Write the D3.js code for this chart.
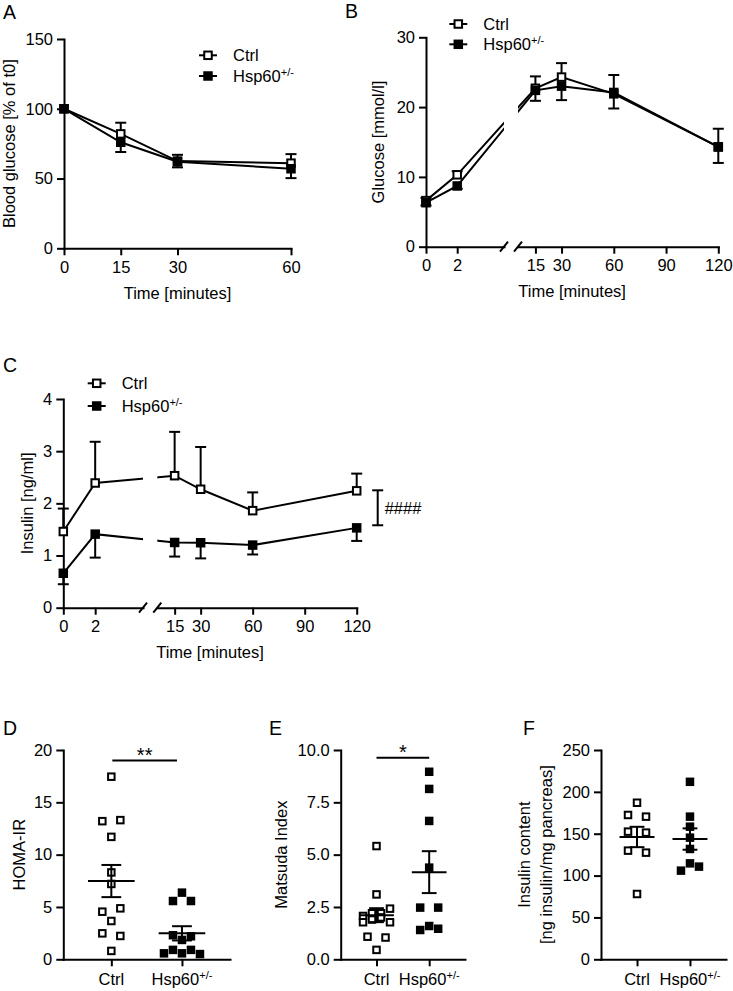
<!DOCTYPE html>
<html><head><meta charset="utf-8">
<script src="https://cdn.jsdelivr.net/npm/d3@7"></script>
<style>
html,body{margin:0;padding:0;background:#fff;}
svg{display:block;}
</style></head><body>
<svg id="fig" width="733" height="991"></svg>
<script>
// ================= DATA =================
const seriesNames = ["Ctrl", "Hsp60"];
const supText = "+/-";

// Panel A – blood glucose (% of t0)
const timeA = [0, 15, 30, 60];
const ctrlA = [100, 82, 62.5, 61];
const ctrlSemA = [0, 8, 4.5, 6.5];
const hspA = [100, 76, 62, 57];
const hspSemA = [0, 7, 4, 6.7];
const yTicksA = [0, 50, 100, 150];
const xTicksA = [0, 15, 30, 60];

// Panel B – glucose (mmol/l)
const timeB = [0, 2, 15, 30, 60, 120];
const ctrlB = [6.6, 10.3, 22.7, 24.3, 21.9, 14.3];
const ctrlSemB = [0.4, 0.5, 1.7, 2.0, 2.7, 2.6];
const hspB = [6.3, 8.7, 22.4, 23.0, 22.1, 14.3];
const hspSemB = [0.4, 0.4, 1.5, 2.0, 2.3, 2.3];
const yTicksB = [0, 10, 20, 30];

// broken time axis (B and C)
const xTicksEarly = [0, 2];
const xTicksLate = [15, 30, 60, 90, 120];
const breakAt = 5;
const timeMax = 120;

// Panel C – insulin (ng/ml)
const timeC = [0, 2, 15, 30, 60, 120];
const ctrlC = [1.46, 2.39, 2.53, 2.27, 1.86, 2.24];
const ctrlSemC = [0.44, 0.79, 0.84, 0.81, 0.35, 0.33];
const hspC = [0.66, 1.41, 1.25, 1.245, 1.20, 1.53];
const hspSemC = [0.21, 0.45, 0.27, 0.30, 0.18, 0.25];
const yTicksC = [0, 1, 2, 3, 4];
const bracketC = [1.58, 2.25];
const bracketLabelC = "####";

// Panel D – HOMA-IR
const homaCtrl = [17.45, 13.2, 13.3, 11.7, 8.3, 7.2, 4.55, 4.87, 3.66, 2.48, 2.23, 0.8];
const homaHsp = [6.37, 5.57, 5.57, 2.3, 1.85, 2.2, 0.57, 0.9, 0.57, 0.9, 0.5];
const yTicksD = [0, 5, 10, 15, 20];
const sigLevelD = 19, sigLabelD = "**";

// Panel E – Matsuda index
const matsudaCtrl = [5.41, 3.1, 2.07, 2.2, 2.2, 2.42, 1.77, 1.9, 2.0, 1.77, 1.08, 1.04, 0.45];
const matsudaHsp = [8.96, 8.14, 6.61, 4.38, 2.47, 2.47, 1.40, 1.59, 1.46];
const yTicksE = [0, 2.5, 5, 7.5, 10];
const sigLevelE = 9.63, sigLabelE = "*";

// Panel F – insulin content
const contentCtrl = [187, 172.4, 170.4, 152.5, 151.3, 129.8, 127.4, 78];
const contentHsp = [212, 170.4, 158.4, 145.3, 131.8, 105.9, 114.6, 110.7];
const yTicksF = [0, 50, 100, 150, 200, 250];

// ================= DRAWING =================
const FONT = '"Liberation Sans", Arial, Helvetica, sans-serif';
const LETTER_FONT = '"Liberation Sans", Arial, sans-serif';
const FS = 16.5;
const svg = d3.select("#fig");
svg.append("rect").attr("width", 733).attr("height", 991).attr("fill", "#fff");

function styleAxis(a) {
  a.select(".domain").attr("stroke", "#000").attr("stroke-width", 2).attr("stroke-linecap", "square");
  a.selectAll(".tick line").attr("stroke", "#000").attr("stroke-width", 2);
  a.selectAll(".tick text").attr("font-size", FS).attr("font-family", FONT).attr("fill", "#000");
}
function yAxis(x0, y, ticks, fmt) {
  const a = svg.append("g").attr("transform", `translate(${x0},0)`)
    .call(d3.axisLeft(y).tickValues(ticks).tickSize(7).tickPadding(4).tickSizeOuter(0).tickFormat(fmt || d3.format("d")));
  styleAxis(a);
}
function xAxis(y0, x, ticks, fmt) {
  const a = svg.append("g").attr("transform", `translate(0,${y0})`)
    .call(d3.axisBottom(x).tickValues(ticks).tickSize(7).tickPadding(6).tickSizeOuter(0).tickFormat(fmt || d3.format("d")));
  styleAxis(a);
  return a;
}
function letter(t, x, y) {
  svg.append("text").attr("x", x).attr("y", y).attr("font-family", LETTER_FONT).attr("font-size", 19.5).text(t);
}
function yTitle(lines, x, yMid) {
  lines.forEach((t, i) => {
    svg.append("text").attr("transform", `translate(${x[i]},${yMid}) rotate(-90)`)
      .attr("text-anchor", "middle").attr("font-family", FONT).attr("font-size", FS).text(t);
  });
}
function xTitle(t, x, y) {
  svg.append("text").attr("x", x).attr("y", y).attr("text-anchor", "middle")
    .attr("font-family", FONT).attr("font-size", FS).text(t);
}
function labelWithSup(sel, name, hasSup) {
  sel.append("tspan").text(name);
  if (hasSup) sel.append("tspan").attr("dy", -6.5).attr("font-size", 11).text(supText);
}
function marker(g, cx, cy, filled, s) {
  g.append("rect").attr("x", cx - s / 2).attr("y", cy - s / 2).attr("width", s).attr("height", s)
    .attr("fill", filled ? "#000" : "#fff").attr("stroke", "#000").attr("stroke-width", 2);
}
function legend(xm, yRows) {
  yRows.forEach((yy, i) => {
    svg.append("line").attr("x1", xm - 9).attr("x2", xm + 9).attr("y1", yy).attr("y2", yy)
      .attr("stroke", "#000").attr("stroke-width", 2);
    marker(svg, xm, yy, i === 1, 7.5);
    const t = svg.append("text").attr("x", xm + 25).attr("y", yy + 6)
      .attr("font-family", FONT).attr("font-size", FS);
    labelWithSup(t, seriesNames[i], i === 1);
  });
}

let clipCount = 0;
function timePanel(o) {
  const g = svg.append("g");
  let clip = null;
  if (o.gap) {
    const id = "clip" + (clipCount++);
    const cp = svg.append("clipPath").attr("id", id);
    cp.append("rect").attr("x", 0).attr("y", 0).attr("width", o.gap[0]).attr("height", 991);
    cp.append("rect").attr("x", o.gap[1]).attr("y", 0).attr("width", 733 - o.gap[1]).attr("height", 991);
    clip = `url(#${id})`;
  }
  const series = [
    { v: o.ctrl, s: o.ctrlSem, dir: 1, filled: false },
    { v: o.hsp, s: o.hspSem, dir: -1, filled: true }
  ];
  const line = d3.line().x((d, i) => o.x(o.time[i])).y(d => o.y(d));
  series.forEach(se => {
    g.append("path").attr("d", line(se.v)).attr("fill", "none").attr("stroke", "#000")
      .attr("stroke-width", 2).attr("clip-path", clip);
  });
  series.forEach(se => {
    se.v.forEach((v, i) => {
      if (!se.s[i]) return;
      const cx = o.x(o.time[i]), y1 = o.y(v), y2 = o.y(v + se.dir * se.s[i]);
      g.append("line").attr("x1", cx).attr("x2", cx).attr("y1", y1).attr("y2", y2).attr("stroke", "#000").attr("stroke-width", 2);
      g.append("line").attr("x1", cx - 5.5).attr("x2", cx + 5.5).attr("y1", y2).attr("y2", y2).attr("stroke", "#000").attr("stroke-width", 2);
    });
  });
  series.forEach(se => {
    se.v.forEach((v, i) => marker(g, o.x(o.time[i]), o.y(v), se.filled, 7.5));
  });
}

function breakMarks(xs, y0) {
  xs.forEach(x => {
    svg.append("line").attr("x1", x - 4).attr("y1", y0 + 5).attr("x2", x + 4).attr("y2", y0 - 5)
      .attr("stroke", "#000").attr("stroke-width", 2);
  });
}

// ---------- Panel A ----------
{
  const x = d3.scaleLinear([0, 60], [64, 291]);
  const y = d3.scaleLinear([0, 150], [248.3, 39]);
  yAxis(64, y, yTicksA);
  xAxis(248.3, x, xTicksA);
  timePanel({ x, y, time: timeA, ctrl: ctrlA, ctrlSem: ctrlSemA, hsp: hspA, hspSem: hspSemA });
  legend(208, [55.3, 76]);
  letter("A", 3, 18.5);
  yTitle(["Blood glucose [% of t0]"], [15], (y(0) + y(150)) / 2);
  xTitle("Time [minutes]", (64 + 291) / 2, 298.5);
}

// ---------- Panel B ----------
{
  const x1 = d3.scaleLinear([0, breakAt], [426, 504]);
  const x2 = d3.scaleLinear([breakAt, timeMax], [518, 718.3]);
  const x = t => (t <= breakAt ? x1(t) : x2(t));
  const y = d3.scaleLinear([0, 30], [246.7, 37.3]);
  yAxis(426, y, yTicksB);
  xAxis(246.7, x1, xTicksEarly);
  xAxis(246.7, x2, xTicksLate);
  breakMarks([504, 518], 246.7);
  timePanel({ x, y, time: timeB, ctrl: ctrlB, ctrlSem: ctrlSemB, hsp: hspB, hspSem: hspSemB, gap: [504, 518] });
  legend(458.3, [24, 44.3]);
  letter("B", 345, 18);
  yTitle(["Glucose [mmol/l]"], [384], (y(0) + y(30)) / 2);
  xTitle("Time [minutes]", (426 + 718.3) / 2, 297);
}

// ---------- Panel C ----------
{
  const x1 = d3.scaleLinear([0, breakAt], [63.3, 143]);
  const x2 = d3.scaleLinear([breakAt, timeMax], [157.3, 356.7]);
  const x = t => (t <= breakAt ? x1(t) : x2(t));
  const y = d3.scaleLinear([0, 4], [607.7, 399]);
  yAxis(63.3, y, yTicksC);
  xAxis(607.7, x1, xTicksEarly);
  xAxis(607.7, x2, xTicksLate);
  breakMarks([143, 157.3], 607.7);
  timePanel({ x, y, time: timeC, ctrl: ctrlC, ctrlSem: ctrlSemC, hsp: hspC, hspSem: hspSemC, gap: [143, 157.3] });
  // significance bracket
  const bx = x2(timeMax) + 21;
  const yb0 = y(bracketC[0]), yb1 = y(bracketC[1]);
  svg.append("line").attr("x1", bx).attr("x2", bx).attr("y1", yb0).attr("y2", yb1).attr("stroke", "#000").attr("stroke-width", 2);
  [yb0, yb1].forEach(yy => svg.append("line").attr("x1", bx - 5.5).attr("x2", bx + 5.5).attr("y1", yy).attr("y2", yy).attr("stroke", "#000").attr("stroke-width", 2));
  svg.append("text").attr("x", bx + 7).attr("y", (yb0 + yb1) / 2 + 6).attr("font-family", FONT).attr("font-size", FS).text(bracketLabelC);
  legend(96.7, [383.3, 406]);
  letter("C", 3, 372);
  yTitle(["Insulin [ng/ml]"], [33], (y(0) + y(4)) / 2);
  xTitle("Time [minutes]", (63.3 + 356.7) / 2, 658);
}

// ---------- Scatter panels ----------
function swarm(values, y, slot, T) {
  const idx = values.map((v, i) => i).sort((a, b) => values[b] - values[a] || a - b);
  const rows = [];
  let cur = null;
  idx.forEach(i => {
    const py = y(values[i]);
    if (cur && Math.abs(py - cur.y0) < T) cur.items.push(i);
    else { cur = { y0: py, items: [i] }; rows.push(cur); }
  });
  const off = new Array(values.length).fill(0);
  rows.forEach(r => {
    r.items.sort((a, b) => a - b);
    const n = r.items.length;
    r.items.forEach((i, k) => {
      off[i] = n === 2 ? (k === 0 ? -1 : 1) * slot : (k - (n - 1) / 2) * slot;
    });
  });
  return off;
}

function scatterPanel(o) {
  const y = d3.scaleLinear(o.domain, [959.3, 750]);
  const x = d3.scalePoint(seriesNames, [o.x0, o.x1]).padding(0.68);
  yAxis(o.x0, y, o.yTicks, o.fmt);
  const ax = xAxis(959.3, x, seriesNames, () => "");
  ax.selectAll(".tick text").remove();
  seriesNames.forEach((nm, i) => {
    const t = svg.append("text").attr("x", x(nm)).attr("y", 959.3 + 26).attr("text-anchor", "middle")
      .attr("font-family", FONT).attr("font-size", FS);
    labelWithSup(t, nm, i === 1);
  });
  const step = x.step();
  const g = svg.append("g");
  [o.ctrl, o.hsp].forEach((vals, gi) => {
    const cx = x(seriesNames[gi]);
    const off = swarm(vals, y, 9, 8);
    vals.forEach((v, i) => marker(g, cx + off[i], y(v), gi === 1, 6.5));
  });
  [o.ctrl, o.hsp].forEach((vals, gi) => {
    const cx = x(seriesNames[gi]);
    const m = d3.mean(vals), sem = d3.deviation(vals) / Math.sqrt(vals.length);
    const hw = 0.33 * step, cw = 0.14 * step;
    g.append("line").attr("x1", cx - hw).attr("x2", cx + hw).attr("y1", y(m)).attr("y2", y(m)).attr("stroke", "#000").attr("stroke-width", 2);
    g.append("line").attr("x1", cx).attr("x2", cx).attr("y1", y(m - sem)).attr("y2", y(m + sem)).attr("stroke", "#000").attr("stroke-width", 2);
    [m - sem, m + sem].forEach(vv => g.append("line").attr("x1", cx - cw).attr("x2", cx + cw).attr("y1", y(vv)).attr("y2", y(vv)).attr("stroke", "#000").attr("stroke-width", 2));
  });
  if (o.sig) {
    const ys = y(o.sig[0]);
    const xa = x(seriesNames[0]) + o.sigInset[0], xb = x(seriesNames[1]) - o.sigInset[1];
    svg.append("line").attr("x1", xa).attr("x2", xb).attr("y1", ys).attr("y2", ys).attr("stroke", "#000").attr("stroke-width", 2);
    svg.append("text").attr("x", (xa + xb) / 2).attr("y", ys + 1.6)
      .attr("text-anchor", "middle").attr("font-family", FONT).attr("font-size", 20).text(o.sig[1]);
  }
  letter(o.letter[0], o.letter[1], 735);
  yTitle(o.title, o.titleX, (959.3 + 750) / 2);
}

scatterPanel({ domain: [0, 20], x0: 63.3, x1: 230, yTicks: yTicksD, ctrl: homaCtrl, hsp: homaHsp,
  sig: [sigLevelD, sigLabelD], sigInset: [1, 5], letter: ["D", 3], title: ["HOMA-IR"], titleX: [25] });
scatterPanel({ domain: [0, 10], x0: 340.7, x1: 465, yTicks: yTicksE, fmt: d3.format(".1f"), ctrl: matsudaCtrl, hsp: matsudaHsp,
  sig: [sigLevelE, sigLabelE], sigInset: [0, 0], letter: ["E", 269], title: ["Matsuda Index"], titleX: [287] });
scatterPanel({ domain: [0, 250], x0: 601, x1: 726, yTicks: yTicksF, ctrl: contentCtrl, hsp: contentHsp,
  letter: ["F", 523], title: ["Insulin content", "[ng insulin/mg pancreas]"], titleX: [530, 552] });
</script>
</body></html>
